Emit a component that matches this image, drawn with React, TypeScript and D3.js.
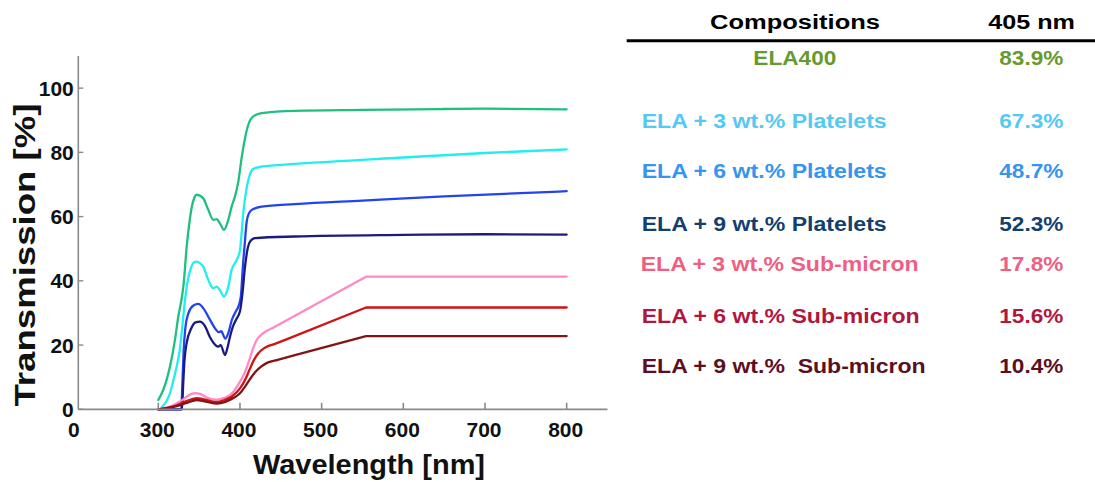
import React from "react";
import * as d3 from "d3";

// ---- Data ----
const xTicks = [0, 300, 400, 500, 600, 700, 800];
const yTicks = [0, 20, 40, 60, 80, 100];

const ela400: [number, number][] = [
  [300, 2.9], [306, 6], [310, 9], [314.3, 13.3], [320.4, 21.6], [324.5, 28.9], [328.6, 34.5],
  [331, 39], [334.8, 50.7], [338, 58], [341, 63], [344, 65.8], [347, 66.8], [351, 66.5],
  [355, 65.7], [361.2, 62.1], [367.3, 59], [371.4, 59.2], [375.5, 57.9], [380.4, 55.9],
  [385.7, 59], [389.8, 63.1], [393.9, 66.3], [398, 70.9], [402, 78.2], [406.2, 84.4],
  [410.2, 88.6], [416.3, 91.2], [426.6, 92.2], [467.4, 92.9], [550, 93.2], [650, 93.5],
  [700, 93.6], [800, 93.4],
];
const plate3: [number, number][] = [
  [303, 0], [305, 0.8], [310, 2.5], [314.3, 5], [318, 8.5], [322.5, 13.3], [326, 18],
  [328.6, 23.7], [332.7, 34], [336, 40], [340, 44], [344, 45.8], [347, 46], [351, 45.5],
  [355, 44.4], [361.2, 40.3], [367.3, 37.7], [371.4, 38.2], [375.5, 37.1], [380.4, 35.1],
  [385.7, 38.2], [389.8, 43.4], [396, 46.5], [400, 49.5], [402, 54.8], [404, 61],
  [408.2, 69], [412, 73], [416, 74.8], [426.6, 75.6], [467.4, 76.4], [600, 78.4],
  [700, 79.8], [800, 80.9],
];
const plate6: [number, number][] = [
  [300, 0], [328, 0], [329.5, 8], [331, 18], [333, 25], [337, 30], [343, 32.3], [349, 32.8],
  [355, 31.5], [363, 28], [370, 25], [374, 24], [377, 24.3], [382, 22], [386, 24],
  [390, 27.8], [395, 30.5], [398, 32], [401, 35], [404, 46], [406, 52], [408.2, 58.4],
  [411, 61], [414.4, 62.1], [426.6, 63.1], [467.4, 63.9], [550, 65], [650, 66.3], [800, 67.9],
];
const plate9: [number, number][] = [
  [300, 0], [329, 0], [330.5, 8], [332, 15], [335, 21], [340, 25], [345, 27], [351, 27.3],
  [357, 26], [363, 22.6], [370, 20], [373.5, 19.5], [376.3, 20], [381.7, 16.9], [385, 19.5],
  [387.8, 22.6], [391, 25.5], [395, 27.8], [400, 30.5], [403, 36], [406, 44], [409, 49.5],
  [412.3, 52.2], [418.4, 53.3], [467.4, 53.8], [600, 54.3], [700, 54.5], [800, 54.4],
];
const sub3: [number, number][] = [
  [300, 0], [310, 0.5], [320, 1.5], [330, 3], [338, 4.5], [345, 5], [350, 4.9], [361, 3.5],
  [371, 3], [378, 3.3], [384, 3.9], [392, 5.5], [400, 8.6], [406, 11.5], [412, 15.8],
  [417, 19.6], [421, 21.8], [428, 23.6], [440, 25.3], [455, 27.4], [554.3, 41.3], [800, 41.3],
];
const sub6: [number, number][] = [
  [300, 0], [320, 1], [335, 2.6], [347, 3.5], [355, 3.2], [365, 2.5], [372, 2.3], [380, 2.8],
  [390, 4], [400, 6.5], [406, 9], [412, 12.5], [417, 15.3], [422, 17.3], [430, 19.1],
  [442, 20.3], [460, 22.1], [554.3, 31.7], [800, 31.7],
];
const sub9: [number, number][] = [
  [300, 0], [320, 0.8], [335, 2], [347, 2.9], [358, 2.4], [372, 1.8], [382, 2.3], [392, 3.5],
  [400, 5], [406, 7], [412, 9.3], [418, 11.4], [424, 12.9], [432, 14.3], [445, 15.3],
  [465, 16.7], [554.3, 22.8], [800, 22.8],
];

const seriesData = [ela400, plate3, plate6, plate9, sub3, sub6, sub9];
const seriesColors = ["#1fbf80", "#22eeee", "#2244ee", "#1a1a80", "#ff88c8", "#cc1515", "#801515"];
// wavelength after which a series is drawn with straight segments
const straightFrom = [Infinity, Infinity, Infinity, Infinity, 440, 442, 445];

const tableHeader = ["Compositions", "405 nm"];
const compositions = [
  "ELA400",
  "ELA + 3 wt.% Platelets",
  "ELA + 6 wt.% Platelets",
  "ELA + 9 wt.% Platelets",
  "ELA + 3 wt.% Sub-micron",
  "ELA + 6 wt.% Sub-micron",
  "ELA + 9 wt.%  Sub-micron",
];
const at405 = ["83.9%", "67.3%", "48.7%", "52.3%", "17.8%", "15.6%", "10.4%"];
const tableColors = ["#679a2e", "#55c9f3", "#3595f0", "#133f70", "#ee5f82", "#b0173f", "#5b0f1f"];

// ---- Layout / style ----
const W = 1095;
const H = 482;
const FONT = "'Liberation Sans', Arial, sans-serif";
const rowBaselines = [65, 128.3, 178.3, 231, 270.7, 322.7, 372.7];
const rowWidths = [83, 245, 245, 245, 278, 278, 284];

export default function App() {
  const x = d3.scaleLinear().domain([0, 300, 850]).range([78.3, 158.3, 607.5]);
  const y = d3.scaleLinear().domain([0, 110]).range([409.3, 56]);
  const smooth = d3
    .line<[number, number]>()
    .x((d) => x(d[0]))
    .y((d) => y(d[1]))
    .curve(d3.curveMonotoneX);
  const straight = d3
    .line<[number, number]>()
    .x((d) => x(d[0]))
    .y((d) => y(d[1]))
    .curve(d3.curveLinear);

  const axisColor = "#8a8a8a";

  return (
    <svg
      width={W}
      height={H}
      viewBox={`0 0 ${W} ${H}`}
      style={{ position: "absolute", left: 0, top: 0, background: "#fff" }}
      fontFamily={FONT}
    >
      {/* curves */}
      {seriesData.map((s, i) => {
        const cut = straightFrom[i];
        const a = s.filter((d) => d[0] <= cut + 20);
        const b = s.filter((d) => d[0] >= cut);
        const aClip = a.filter((d) => d[0] <= cut);
        return (
          <g key={i} fill="none" stroke={seriesColors[i]} strokeWidth={2.3} strokeLinejoin="round" strokeLinecap="round">
            <path d={smooth(cut === Infinity ? s : aClip) || ""} />
            {b.length > 1 && <path d={straight(b) || ""} />}
          </g>
        );
      })}

      {/* axes */}
      <line x1={x(0)} x2={x(0)} y1={y(110)} y2={y(0)} stroke={axisColor} strokeWidth={1.6} />
      <line x1={x(0)} x2={x(850)} y1={y(0)} y2={y(0)} stroke={axisColor} strokeWidth={1.8} />
      {yTicks.map((t) => (
        <g key={"y" + t}>
          <line x1={x(0)} x2={x(0) + 5} y1={y(t)} y2={y(t)} stroke={axisColor} strokeWidth={1.4} />
          <text x={x(0) - 4.5} y={y(t)} dy="0.36em" textAnchor="end" fontSize={21} fontWeight="bold" fill="#111">
            {t}
          </text>
        </g>
      ))}
      {xTicks.map((t) => (
        <g key={"x" + t}>
          {t > 0 && (
            <line x1={x(t)} x2={x(t)} y1={y(0)} y2={y(0) - 6.5} stroke={axisColor} strokeWidth={1.6} />
          )}
          <text x={t === 0 ? x(t) - 4.5 : x(t) - 1} y={437} textAnchor="middle" fontSize={21} fontWeight="bold" fill="#111">
            {t}
          </text>
        </g>
      ))}

      {/* axis titles */}
      <text
        transform="translate(35,255) rotate(-90)"
        textAnchor="middle"
        fontSize={29}
        fontWeight="bold"
        fill="#111"
        textLength={303}
        lengthAdjust="spacingAndGlyphs"
      >
        Transmission [%]
      </text>
      <text x={369} y={474} textAnchor="middle" fontSize={28} fontWeight="bold" fill="#111" textLength={232} lengthAdjust="spacingAndGlyphs">
        Wavelength [nm]
      </text>

      {/* table */}
      <text x={710} y={29.3} fontSize={20} fontWeight="bold" fill="#000" textLength={170} lengthAdjust="spacingAndGlyphs">
        {tableHeader[0]}
      </text>
      <text x={988.3} y={29.3} fontSize={20} fontWeight="bold" fill="#000" textLength={86.7} lengthAdjust="spacingAndGlyphs">
        {tableHeader[1]}
      </text>
      <line x1={626.7} x2={1095} y1={40.7} y2={40.7} stroke="#000" strokeWidth={3} />
      {compositions.map((c, i) => (
        <g key={"row" + i}>
          <text
            x={i === 0 ? 753.3 : i === 4 ? 640.7 : 641.7}
            y={rowBaselines[i]}
            fontSize={20}
            fontWeight="bold"
            fill={tableColors[i]}
            textLength={rowWidths[i]}
            lengthAdjust="spacingAndGlyphs"
            style={{ whiteSpace: "pre" }}
          >
            {c}
          </text>
          <text
            x={999.3}
            y={rowBaselines[i]}
            fontSize={20}
            fontWeight="bold"
            fill={tableColors[i]}
            textLength={64}
            lengthAdjust="spacingAndGlyphs"
          >
            {at405[i]}
          </text>
        </g>
      ))}
    </svg>
  );
}
